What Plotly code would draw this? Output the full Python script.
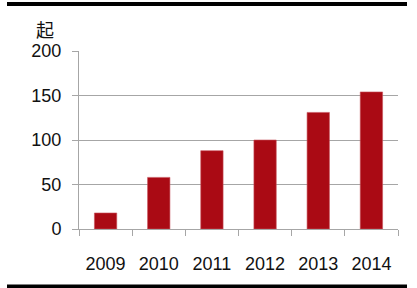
import plotly.graph_objects as go

years = ["2009", "2010", "2011", "2012", "2013", "2014"]
counts = [18, 58, 88, 100, 131, 154]
y_ticks = [0, 50, 100, 150, 200]
unit_label = "起"

W, H = 417, 288
L, R, T, B = 79, 19, 51, 59
ph = H - T - B

def py(px):
    # convert pixel y (from top) to paper coordinate
    return (H - B - px) / ph

def px_x(px):
    return (px - L) / (W - L - R)

fig = go.Figure(go.Bar(
    x=years, y=counts,
    marker=dict(color="#AA0A14", line=dict(color="#C8505A", width=0.6)),
    width=0.42,
))

fig.update_layout(
    width=W, height=H,
    margin=dict(l=L, r=R, t=T, b=B),
    paper_bgcolor="white", plot_bgcolor="white",
    showlegend=False,
    font=dict(family="Liberation Sans, Arial", size=18, color="#111"),
    xaxis=dict(
        type="category", showgrid=False,
        showline=True, linecolor="#A6A6A6", linewidth=1,
        ticks="outside", tickson="boundaries", ticklen=6, tickcolor="#A6A6A6",
        ticklabelstandoff=18,
        tickfont=dict(size=18),
    ),
    yaxis=dict(
        range=[0, 200], tickvals=y_ticks,
        showgrid=True, gridcolor="#A6A6A6", gridwidth=1,
        showline=True, linecolor="#A6A6A6", linewidth=1,
        ticks="outside", ticklen=6, tickcolor="#A6A6A6",
        ticklabelstandoff=7,
        zeroline=False,
        tickfont=dict(size=18),
    ),
    shapes=[
        dict(type="rect", xref="paper", yref="paper",
             x0=px_x(7), x1=px_x(407), y0=py(6), y1=py(2),
             fillcolor="black", line=dict(width=0), layer="above"),
        dict(type="rect", xref="paper", yref="paper",
             x0=px_x(7), x1=px_x(407), y0=py(288), y1=py(284.5),
             fillcolor="black", line=dict(width=0), layer="above"),
    ],
    annotations=[
        dict(text=unit_label, xref="paper", yref="paper",
             x=px_x(45), y=py(29), xanchor="center", yanchor="middle",
             showarrow=False,
             font=dict(family="Noto Sans CJK SC", size=18, color="#111")),
    ],
)

fig.write_html("out.html")
